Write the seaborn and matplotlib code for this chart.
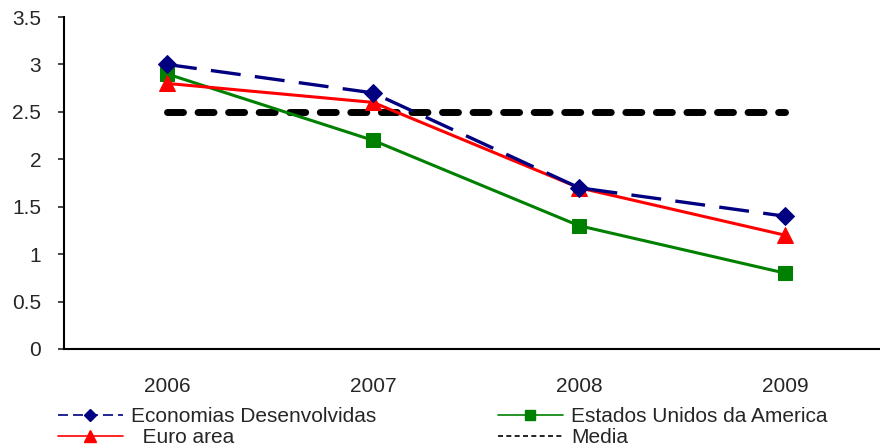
import matplotlib
matplotlib.use("Agg")
import matplotlib.pyplot as plt
from matplotlib.lines import Line2D
import pandas as pd
import seaborn as sns

# data
anos = ["2006", "2007", "2008", "2009"]
economias = [3.0, 2.7, 1.7, 1.4]
eua = [2.9, 2.2, 1.3, 0.8]
euro = [2.8, 2.6, 1.7, 1.2]
media = [2.5, 2.5, 2.5, 2.5]

sns.set_style("white")
plt.rcParams["font.family"] = ["Liberation Sans", "DejaVu Sans"]

df = pd.DataFrame({"pos": range(len(anos)), "economias": economias,
                   "eua": eua, "euro": euro, "media": media})

fig = plt.figure(figsize=(8.8, 4.46), dpi=100)
ax = fig.add_axes([64 / 880, 1 - 349 / 446, 824 / 880, 332 / 446])

sns.lineplot(data=df, x="pos", y="media", ax=ax, color="black", lw=5,
             zorder=1)
ln = ax.lines[-1]
ln.set_dashes([2.3, 2.1])
ln.set_dash_capstyle("round")
sns.lineplot(data=df, x="pos", y="eua", ax=ax, color="#008000", lw=2.2,
             marker="s", markersize=10, markeredgecolor="#008000", zorder=2)
sns.lineplot(data=df, x="pos", y="euro", ax=ax, color="#ff0000", lw=2.2,
             marker="^", markersize=11, markeredgecolor="#ff0000", zorder=3)
sns.lineplot(data=df, x="pos", y="economias", ax=ax, color="#000080", lw=2.4,
             marker="D", markersize=9, markeredgecolor="#000080", zorder=4)
ax.lines[-1].set_dashes([9, 4.3])

ax.set_xlim(-0.5, 3.5)
ax.set_ylim(0, 3.5)
ax.set_yticks([0, 0.5, 1, 1.5, 2, 2.5, 3, 3.5])
ax.set_yticklabels(["0", "0.5", "1", "1.5", "2", "2.5", "3", "3.5"])
ax.set_xticks(range(len(anos)))
ax.set_xticklabels(anos)
ax.set_xticks([-0.5, 0.5, 1.5, 2.5], minor=True)
ax.tick_params(axis="x", which="major", length=0, pad=20, labelsize=15)
ax.tick_params(axis="x", which="minor", length=5, width=1.2, direction="out")
ax.tick_params(axis="y", length=4.5, width=1.2, direction="out", left=True,
               labelsize=15, pad=12)
ax.set_xlabel("")
ax.set_ylabel("")
for s in ["top", "right"]:
    ax.spines[s].set_visible(False)
for s in ["left", "bottom"]:
    ax.spines[s].set_color("black")
    ax.spines[s].set_linewidth(1.5)

h_econ = Line2D([], [], color="#000080", lw=1.2, dashes=[6, 3], marker="D", markersize=6)
h_euro = Line2D([], [], color="#ff0000", lw=1.2, marker="^", markersize=8)
h_eua = Line2D([], [], color="#008000", lw=1.2, marker="s", markersize=7)
h_media = Line2D([], [], color="black", lw=1.2, dashes=[3, 2])

kw = dict(frameon=False, fontsize=15, handlelength=3.1, handletextpad=0.4,
          labelspacing=0.1, loc="upper left", borderpad=0, borderaxespad=0)
leg1 = fig.legend([h_econ, h_euro], ["Economias Desenvolvidas", "  Euro area"],
                  bbox_to_anchor=(58 / 880, 1 - 407 / 446), **kw)
leg2 = fig.legend([h_eua, h_media], ["Estados Unidos da America", "Media"],
                  bbox_to_anchor=(498 / 880, 1 - 407 / 446), **kw)

fig.savefig("out.png", dpi=100)
